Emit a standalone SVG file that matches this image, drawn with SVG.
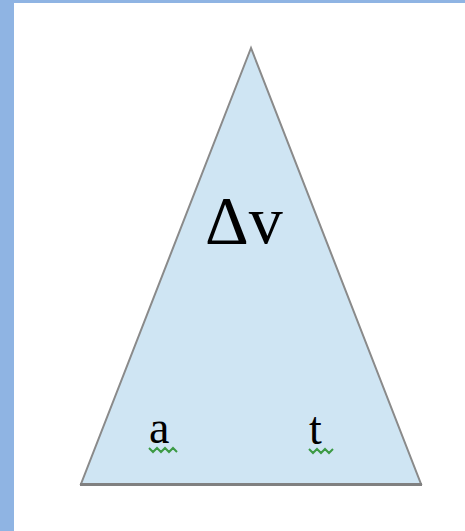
<svg xmlns="http://www.w3.org/2000/svg" width="465" height="531" viewBox="0 0 465 531">
<style>
.lbl{font-family:"Liberation Serif","DejaVu Serif",serif;fill:#000}
.wave{fill:none;stroke:#3c9a44;stroke-width:2}
</style>
<rect x="0" y="0" width="465" height="531" fill="#fff"/>
<rect x="0" y="0" width="14" height="531" fill="#8fb4e3"/>
<rect x="0" y="0" width="465" height="3" fill="#8fb4e3"/>
<g id="triangle">
<polygon points="251,48 81,484 421,484" fill="#cfe5f3" stroke="#8a8a8a" stroke-width="2"/>
<line x1="80" y1="484.5" x2="422" y2="484.5" stroke="#808080" stroke-width="3"/>
</g>
<g id="dv"><text class="lbl" x="205" y="243" font-size="68">Δv</text></g>
<g id="a"><text class="lbl" x="149" y="443" font-size="46">a</text>
<path class="wave" d="M149,448 l4,4 l4,-4 l4,4 l4,-4 l4,4 l4,-4 l4,4"/></g>
<g id="t"><text class="lbl" x="309" y="444" font-size="46">t</text>
<path class="wave" d="M309,449 l4,4 l4,-4 l4,4 l4,-4 l4,4 l4,-4"/></g>
</svg>
